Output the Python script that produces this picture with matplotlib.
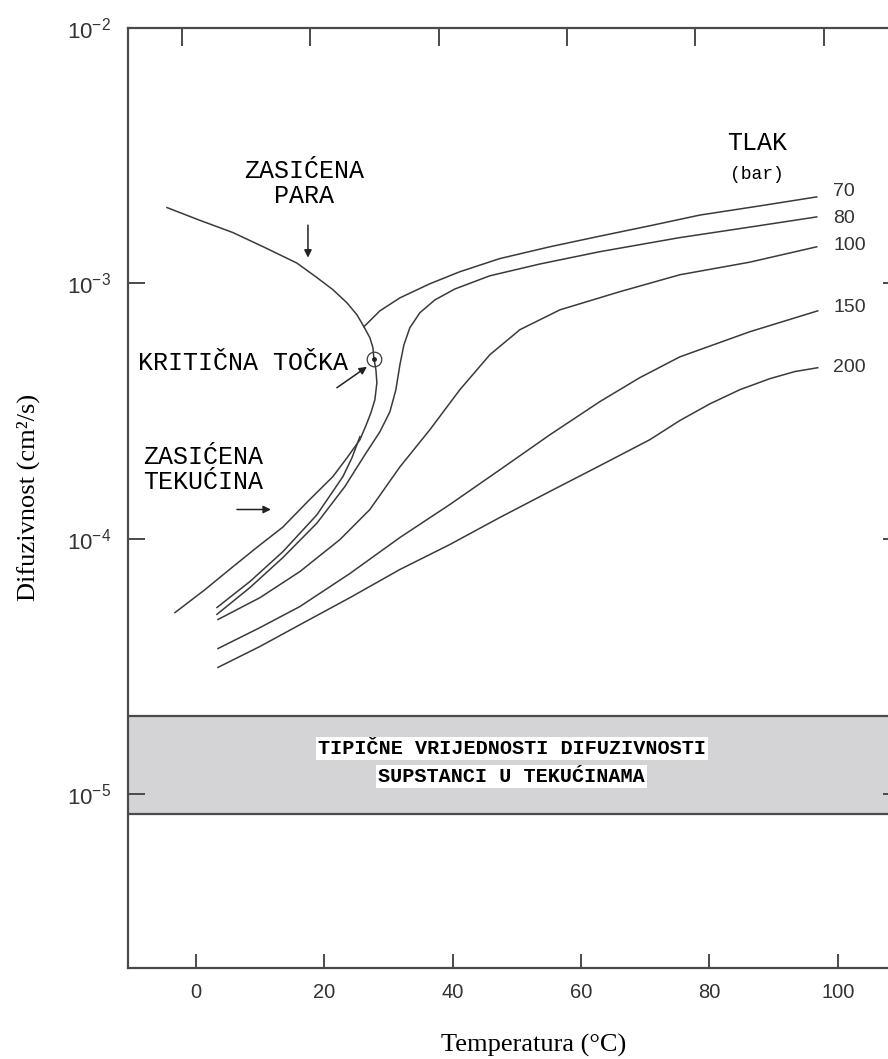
import matplotlib
matplotlib.use("Agg")
import matplotlib.pyplot as plt
from matplotlib.ticker import NullLocator

plt.rcParams["mathtext.fontset"] = "custom"
plt.rcParams["mathtext.rm"] = "Liberation Sans"
plt.rcParams["mathtext.it"] = "Liberation Sans:italic"
plt.rcParams["mathtext.bf"] = "Liberation Sans:bold"

# saturation dome (vapour branch -> critical point -> liquid branch)
dome_t = [-4.52, 0.47, 5.76, 10.75, 15.73, 18.69, 21.34, 23.52, 25.08, 26.17, 27.10, 27.57,
          27.73, 28.04, 28.19, 27.88, 27.26, 26.48, 25.55, 23.52, 21.34, 17.45, 13.55, 9.66,
          5.76, 1.40, -3.27]
dome_d = [1.98e-3, 1.77e-3, 1.58e-3, 1.38e-3, 1.20e-3, 1.06e-3, 9.44e-4, 8.39e-4, 7.53e-4,
          6.76e-4, 6.12e-4, 5.60e-4, 5.07e-4, 4.58e-4, 4.08e-4, 3.50e-4, 3.11e-4, 2.77e-4,
          2.44e-4, 2.07e-4, 1.75e-4, 1.40e-4, 1.11e-4, 9.31e-5, 7.76e-5, 6.31e-5, 5.13e-5]
crit_t, crit_d = 27.73, 5.07e-4

# isobars
p70_liq_t = [3.27, 8.41, 13.55, 18.85, 22.90, 24.30, 25.55]
p70_liq_d = [5.37e-5, 6.79e-5, 8.89e-5, 1.24e-4, 1.75e-4, 2.07e-4, 2.51e-4]
p70_vap_t = [26.17, 28.66, 31.78, 36.45, 41.12, 47.35, 55.14, 62.93, 70.72, 78.50, 87.85, 96.73]
p70_vap_d = [6.76e-4, 7.80e-4, 8.77e-4, 9.96e-4, 1.11e-3, 1.25e-3, 1.39e-3, 1.53e-3, 1.68e-3,
             1.85e-3, 2.01e-3, 2.18e-3]
p80_t = [3.27, 8.41, 13.55, 18.85, 23.21, 26.32, 28.66, 30.22, 31.15, 31.78, 32.40, 33.33,
         34.89, 37.23, 40.34, 45.79, 53.58, 62.93, 75.39, 86.29, 96.73]
p80_d = [5.05e-5, 6.43e-5, 8.43e-5, 1.15e-4, 1.60e-4, 2.13e-4, 2.62e-4, 3.14e-4, 3.83e-4,
         4.80e-4, 5.74e-4, 6.70e-4, 7.67e-4, 8.61e-4, 9.50e-4, 1.07e-3, 1.19e-3, 1.33e-3,
         1.51e-3, 1.66e-3, 1.82e-3]
p100_t = [3.43, 9.97, 16.20, 22.43, 27.10, 31.78, 36.45, 41.12, 45.79, 50.47, 56.70, 66.04,
          75.39, 86.29, 96.73]
p100_d = [4.82e-5, 5.87e-5, 7.43e-5, 9.91e-5, 1.30e-4, 1.91e-4, 2.67e-4, 3.83e-4, 5.25e-4,
          6.58e-4, 7.87e-4, 9.27e-4, 1.08e-3, 1.21e-3, 1.39e-3]
p150_t = [3.43, 9.97, 16.20, 23.99, 31.78, 39.56, 47.35, 55.14, 62.93, 69.16, 75.39, 86.29, 96.88]
p150_d = [3.71e-5, 4.48e-5, 5.42e-5, 7.30e-5, 1.01e-4, 1.36e-4, 1.86e-4, 2.55e-4, 3.44e-4,
          4.27e-4, 5.15e-4, 6.46e-4, 7.80e-4]
p200_t = [3.43, 9.97, 16.20, 23.99, 31.78, 39.56, 47.35, 55.14, 62.93, 70.72, 75.39, 80.06,
          84.74, 89.41, 93.30, 96.88]
p200_d = [3.13e-5, 3.78e-5, 4.60e-5, 5.87e-5, 7.57e-5, 9.48e-5, 1.21e-4, 1.53e-4, 1.93e-4,
          2.44e-4, 2.90e-4, 3.37e-4, 3.83e-4, 4.23e-4, 4.51e-4, 4.67e-4]

pressure_labels = ["70", "80", "100", "150", "200"]
pressure_label_d = [2.28e-3, 1.80e-3, 1.40e-3, 8.02e-4, 4.67e-4]

# liquid diffusivity band
band_low, band_high = 8.35e-6, 2.02e-5

x_ticks = [0, 20, 40, 60, 80, 100]
y_ticks = [1e-5, 1e-4, 1e-3, 1e-2]
y_tick_labels = [r"$10^{-5}$", r"$10^{-4}$", r"$10^{-3}$", r"$10^{-2}$"]

W, H = 888, 1059
fig = plt.figure(figsize=(W / 100, H / 100), dpi=100)
ax = fig.add_axes([128 / W, (H - 968) / H, (900 - 128) / W, (968 - 28) / H])

line_c = "#3a3a3a"
spine_c = "#4a4a4a"
mono = "Liberation Mono"

ax.set_yscale("log")
ax.set_xlim(-10.59, 109.7)
ax.set_ylim(2.08e-6, 1e-2)

ax.axhspan(band_low, band_high, facecolor="#d4d4d6", edgecolor="none", zorder=0)
ax.axhline(band_low, color=spine_c, lw=1.6, zorder=1)
ax.axhline(band_high, color=spine_c, lw=1.6, zorder=1)

lw = 1.1
ax.plot(dome_t, dome_d, color=line_c, lw=lw)
ax.plot(p70_liq_t, p70_liq_d, color=line_c, lw=lw)
ax.plot(p70_vap_t, p70_vap_d, color=line_c, lw=lw)
ax.plot(p80_t, p80_d, color=line_c, lw=lw)
ax.plot(p100_t, p100_d, color=line_c, lw=lw)
ax.plot(p150_t, p150_d, color=line_c, lw=lw)
ax.plot(p200_t, p200_d, color=line_c, lw=lw)

ax.plot([crit_t], [crit_d], marker="o", ms=10.5, mfc="none", mec=line_c, mew=0.9)
ax.plot([crit_t], [crit_d], marker="o", ms=2.5, color="#222222")

for lab, d in zip(pressure_labels, pressure_label_d):
    ax.text(99.3, d, lab, fontsize=14, family="Liberation Sans", color="#333333",
            ha="left", va="center")

ax.text(87.4, 3.55e-3, "TLAK", fontsize=18, family=mono, ha="center", va="center")
ax.text(87.4, 2.66e-3, "(bar)", fontsize=13, family=mono, ha="center", va="center")

ax.text(16.8, 2.47e-3, "ZASIĆENA\nPARA", fontsize=18, family=mono, ha="center",
        va="center", linespacing=1.05)
ax.text(-9.03, 4.89e-4, "KRITIČNA TOČKA", fontsize=18, family=mono, ha="left", va="center")
ax.text(-8.26, 1.86e-4, "ZASIĆENA\nTEKUĆINA", fontsize=18, family=mono, ha="left",
        va="center", linespacing=1.05)

arrow = dict(arrowstyle="-|>", color="#222222", lw=1.1, mutation_scale=11,
             shrinkA=0, shrinkB=0)
ax.annotate("", xy=(17.45, 1.26e-3), xytext=(17.45, 1.69e-3), arrowprops=arrow)
ax.annotate("", xy=(11.68, 1.30e-4), xytext=(6.39, 1.30e-4), arrowprops=arrow)
ax.annotate("", xy=(26.64, 4.71e-4), xytext=(21.96, 3.90e-4), arrowprops=arrow)

box = dict(facecolor="white", edgecolor="none", pad=1.5)
ax.text(49.2, 1.51e-5, "TIPIČNE VRIJEDNOSTI DIFUZIVNOSTI", fontsize=14.5, family=mono,
        fontweight="bold", ha="center", va="center", bbox=box, zorder=3)
ax.text(49.2, 1.17e-5, "SUPSTANCI U TEKUĆINAMA", fontsize=14.5, family=mono,
        fontweight="bold", ha="center", va="center", bbox=box, zorder=3)

# axes styling
for s in ax.spines.values():
    s.set_color(spine_c)
    s.set_linewidth(1.6)
ax.spines["top"].set_visible(False)

ax.set_xticks(x_ticks)
ax.set_xticklabels([str(t) for t in x_ticks])
ax.set_yticks(y_ticks)
ax.set_yticklabels(y_tick_labels)
ax.yaxis.set_minor_locator(NullLocator())
ax.tick_params(axis="x", direction="in", length=10, width=1.4, color=spine_c, pad=11,
               labelsize=14.5, labelcolor="#333333")
ax.tick_params(axis="y", direction="in", length=12.5, width=1.4, color=spine_c, pad=12,
               labelsize=16, labelcolor="#333333", right=True)
for lab in ax.get_xticklabels() + ax.get_yticklabels():
    lab.set_family("Liberation Sans")

# top axis ticks sit slightly shifted in the original
top = ax.secondary_xaxis("top", functions=(lambda t: t + 2.2, lambda t: t - 2.2))
top.set_xticks(x_ticks)
top.set_xticklabels([])
top.tick_params(direction="in", length=13, width=1.4, color=spine_c)
top.spines["top"].set_color(spine_c)
top.spines["top"].set_linewidth(1.6)

fig.text(534 / W, 1 - 1045 / H, "Temperatura (°C)", fontsize=19, family="Liberation Serif",
         ha="center", va="center")
fig.text(28 / W, 1 - 497 / H, "Difuzivnost (cm²/s)", fontsize=19, family="Liberation Serif",
         ha="center", va="center", rotation=90)

fig.savefig("out.png", dpi=100)
